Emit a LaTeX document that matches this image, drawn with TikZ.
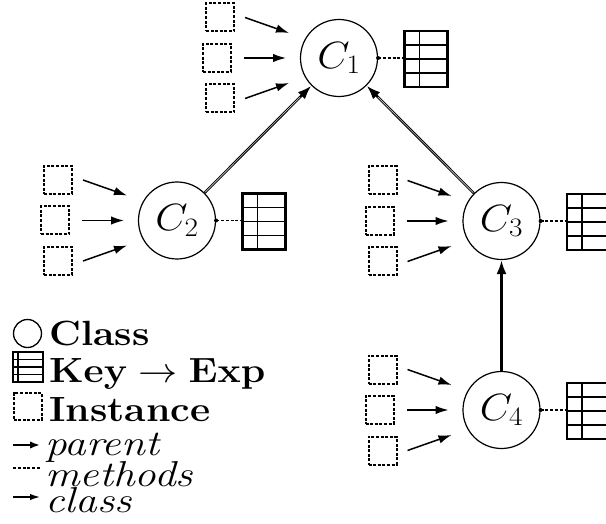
\RequirePackage{fix-cm}
\documentclass[tikz,border=0pt]{standalone}
\usepackage{graphicx}
\usetikzlibrary{arrows.meta,calc}

\tikzset{
  cls/.style={draw, circle, line width=1.2pt, minimum size=77pt, inner sep=0pt,
    font=\fontsize{38}{38}\selectfont},
  inst/.style={draw, line width=2pt, dash pattern=on 3pt off 1.6pt,
    minimum width=28pt, minimum height=28pt, inner sep=0pt},
  kvlines/.style={path picture={
      \draw[line width=1.5pt]
        ([xshift=#1]path picture bounding box.north west) --
        ([xshift=#1]path picture bounding box.south west);
      \foreach \q in {0.25,0.5,0.75}
        \draw[line width=1.5pt]
          ($(path picture bounding box.north west)!\q!(path picture bounding box.south west)$) --
          ($(path picture bounding box.north east)!\q!(path picture bounding box.south east)$);
  }},
  kvtable/.style={draw, line width=2.2pt, minimum width=43pt, minimum height=56pt,
    inner sep=0pt, kvlines=15pt},
  kvicon/.style={draw, line width=1.5pt, minimum width=30pt, minimum height=30pt,
    inner sep=0pt, kvlines=5pt},
  classof/.style={line width=1.5pt, -{Latex[length=13pt,width=8.5pt]}},
  methodlink/.style={line width=1.8pt, dash pattern=on 3pt off 1.8pt},
  parentlink/.style={line width=2.6pt, -{Latex[length=14pt,width=10pt]}},
  parentcore/.style={line width=0.6pt, gray!45, shorten >=16pt, shorten <=1pt},
  lgbold/.style={anchor=base west, inner sep=0pt, font=\fontsize{35}{35}\selectfont\bfseries},
  lgital/.style={anchor=base west, inner sep=0pt, font=\fontsize{36}{36}\selectfont\itshape},
}

% class circle with three instances, its method table and the links between them
\newcommand\classgroup[4]{%
  \node[cls] (#1) at (#2,#3) {\scalebox{1.1}[1]{$C_{#4}$}};
  \node[inst] (#1a) at ($(#1)+(-119,-40.5)$) {};
  \node[inst] (#1b) at ($(#1)+(-122,0)$) {};
  \node[inst] (#1c) at ($(#1)+(-119,40.5)$) {};
  \node[kvtable] (#1t) at ($(#1)+(87,1)$) {};
  \coordinate (#1ea) at ($(#1)+(-50,-25)$);
  \coordinate (#1eb) at ($(#1)+(-53,0)$);
  \coordinate (#1ec) at ($(#1)+(-50,25)$);
  \draw[classof] ([xshift=10pt]#1a.east) -- (#1ea);
  \draw[classof] ([xshift=12pt]#1b.east) -- (#1eb);
  \draw[classof] ([xshift=10pt]#1c.east) -- (#1ec);
  \draw[methodlink] (#1.east) -- (#1.east -| #1t.west);
  \fill (#1.east) circle (2pt);
}

\begin{document}
\begin{tikzpicture}[x=1pt, y=-1pt]
  \useasboundingbox (0,0) rectangle (606,524);
  \clip (0,0) rectangle (606,524);

  \classgroup{c1}{339}{58}{1}
  \classgroup{c2}{177}{220.5}{2}
  \classgroup{c3}{501.5}{221}{3}
  \classgroup{c4}{501.5}{410}{4}

  % parent links
  \draw[parentlink] (c2) -- (c1);
  \draw[parentcore] (c2) -- (c1);
  \draw[parentlink] (c3) -- (c1);
  \draw[parentcore] (c3) -- (c1);
  \draw[parentlink] (c4) -- (c3);

  % legend symbols
  \node[cls, minimum size=28pt, line width=1.3pt] (lgcls) at (27.5,333.5) {};
  \node[kvicon] (lgkv) at (28,367) {};
  \node[inst, minimum width=28pt, minimum height=27pt] (lginst) at (27.5,406.5) {};
  \coordinate (lp0) at (13,445);  \coordinate (lp1) at (40,445);
  \coordinate (lm0) at (13,468);  \coordinate (lm1) at (40,468);
  \coordinate (lc0) at (13,497);  \coordinate (lc1) at (40,497);
  \draw[line width=2.6pt, -{Latex[length=10pt,width=7.5pt]}] (lp0) -- (lp1);
  \draw[methodlink] (lm0) -- (lm1);
  \draw[line width=1.5pt, -{Latex[length=10pt,width=6.5pt]}] (lc0) -- (lc1);

  % legend texts
  \node[lgbold] (tcls) at (49,345) {\scalebox{1.12}[1]{Class}};
  \node[lgbold] (tkv) at (49,382) {\scalebox{1.12}[1]{$\mathbf{Key}\rightarrow\mathbf{Exp}$}};
  \node[lgbold] (tinst) at (49,421) {\scalebox{1.12}[1]{Instance}};
  \node[lgital] (tpar) at (45,455) {\scalebox{1.2}[1]{parent}};
  \node[lgital] (tmet) at (45,486) {\scalebox{1.2}[1]{methods}};
  \node[lgital] (tcl) at (45,512) {\scalebox{1.2}[1]{class}};
\end{tikzpicture}
\end{document}
